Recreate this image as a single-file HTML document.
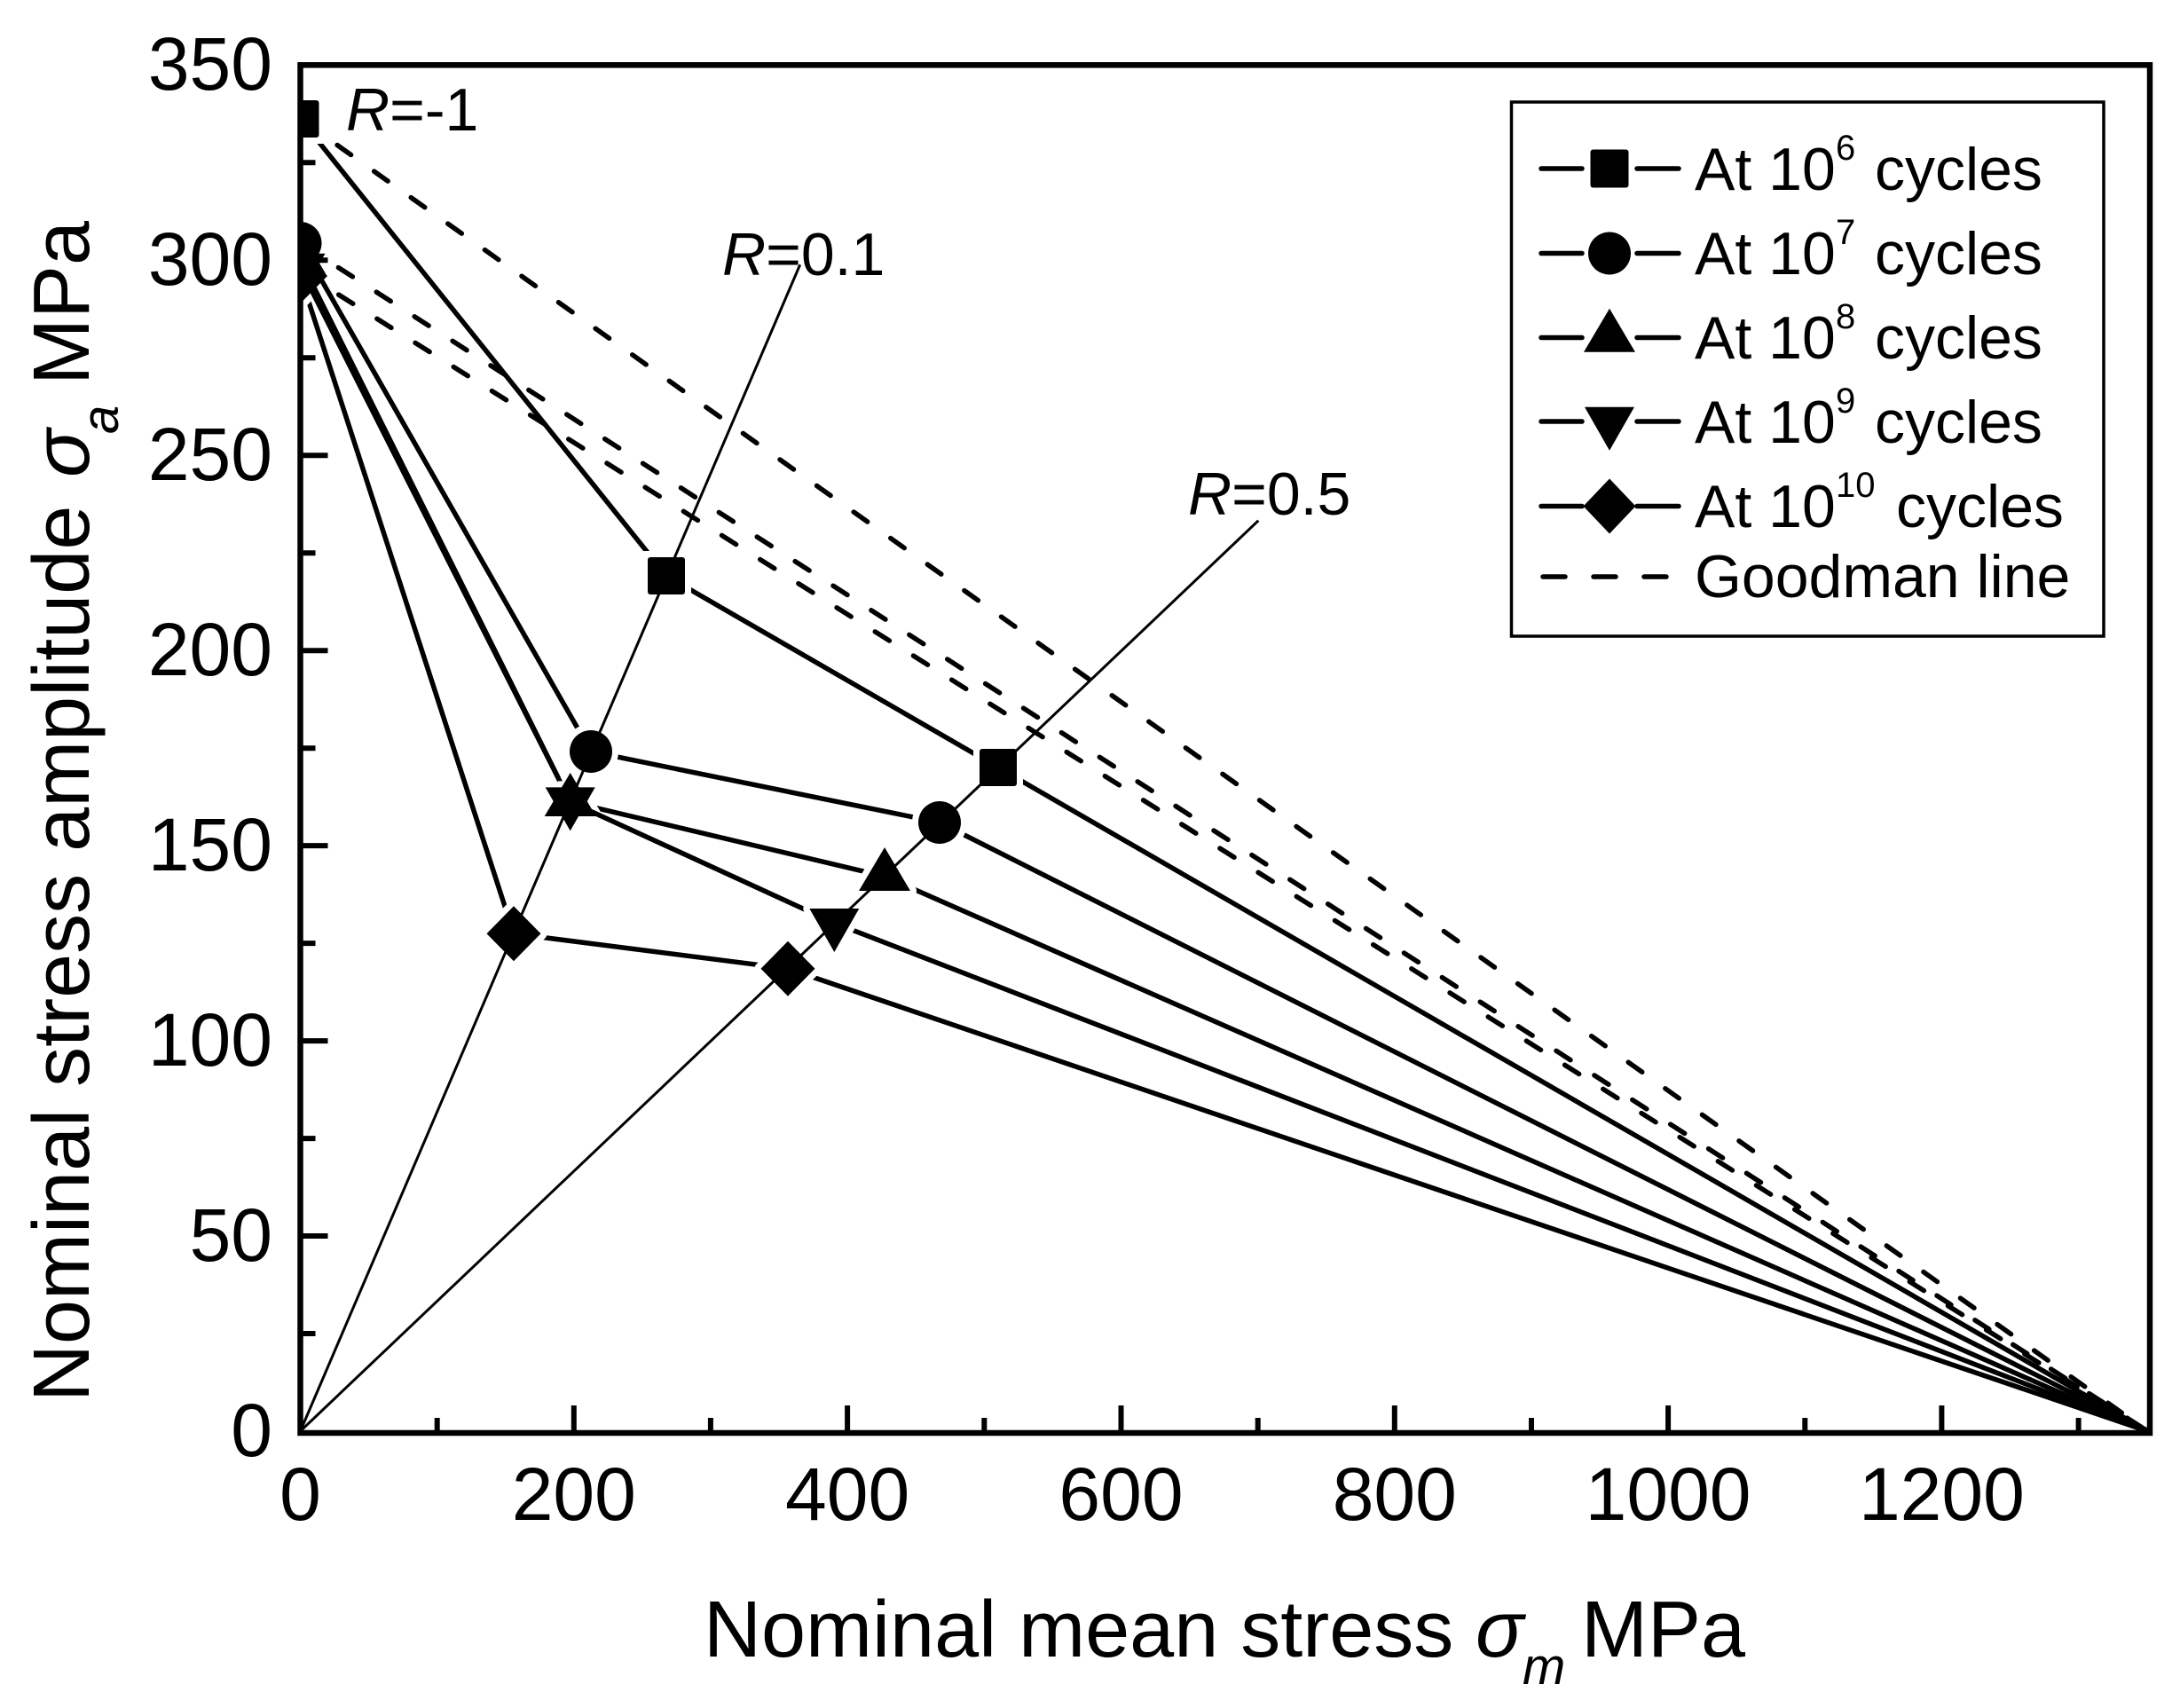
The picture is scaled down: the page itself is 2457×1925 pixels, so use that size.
<!DOCTYPE html>
<html>
<head>
<meta charset="utf-8">
<style>
html,body{margin:0;padding:0;background:#fff;}
svg{display:block;}
text{font-family:"Liberation Sans",Arial,sans-serif;fill:#000;}
</style>
</head>
<body>
<svg width="2457" height="1925" viewBox="0 0 2457 1925" xmlns="http://www.w3.org/2000/svg">
<rect x="0" y="0" width="2457" height="1925" fill="#fff"/>
<defs>
<clipPath id="pc"><rect x="338.5" y="73" width="2084.5" height="1542"/></clipPath>
<mask id="m6" maskUnits="userSpaceOnUse" x="0" y="0" width="2457" height="1925">
<rect x="0" y="0" width="2457" height="1925" fill="#fff"/>
<g fill="#000" stroke="#000" stroke-width="14">
<rect x="317.5" y="113" width="42" height="42"/>
<rect x="730" y="628" width="42" height="42"/>
<rect x="1104" y="844" width="42" height="42"/>
</g></mask>
<mask id="m7" maskUnits="userSpaceOnUse" x="0" y="0" width="2457" height="1925">
<rect x="0" y="0" width="2457" height="1925" fill="#fff"/>
<g fill="#000" stroke="#000" stroke-width="14">
<circle cx="338.5" cy="274" r="24"/>
<circle cx="666" cy="847" r="24"/>
<circle cx="1059" cy="927" r="24"/>
</g></mask>
<mask id="m8" maskUnits="userSpaceOnUse" x="0" y="0" width="2457" height="1925">
<rect x="0" y="0" width="2457" height="1925" fill="#fff"/>
<g fill="#000" stroke="#000" stroke-width="14" stroke-linejoin="round">
<polygon transform="translate(338.5,293)" points="0,-32.7 29,16.3 -29,16.3"/>
<polygon transform="translate(642.7,903.7)" points="0,-32.7 29,16.3 -29,16.3"/>
<polygon transform="translate(997,987.7)" points="0,-32.7 29,16.3 -29,16.3"/>
</g></mask>
<mask id="m9" maskUnits="userSpaceOnUse" x="0" y="0" width="2457" height="1925">
<rect x="0" y="0" width="2457" height="1925" fill="#fff"/>
<g fill="#000" stroke="#000" stroke-width="14" stroke-linejoin="round">
<polygon transform="translate(338.5,302)" points="-28,-16.3 28,-16.3 0,32.7"/>
<polygon transform="translate(642.7,903.7)" points="-28,-16.3 28,-16.3 0,32.7"/>
<polygon transform="translate(940.3,1040.3)" points="-28,-16.3 28,-16.3 0,32.7"/>
</g></mask>
<mask id="m10" maskUnits="userSpaceOnUse" x="0" y="0" width="2457" height="1925">
<rect x="0" y="0" width="2457" height="1925" fill="#fff"/>
<g fill="#000" stroke="#000" stroke-width="14" stroke-linejoin="round">
<polygon transform="translate(338.5,311)" points="0,-31 30.5,0 0,31 -30.5,0"/>
<polygon transform="translate(579,1052.3)" points="0,-31 30.5,0 0,31 -30.5,0"/>
<polygon transform="translate(888,1091.7)" points="0,-31 30.5,0 0,31 -30.5,0"/>
</g></mask>
</defs>

<!-- Goodman dashed lines -->
<g clip-path="url(#pc)" fill="none" stroke="#000" stroke-width="5.5" stroke-dasharray="19 32" stroke-linecap="round">
<path d="M338.5,134 L2420.5,1613"/>
<path d="M338.5,274 L2420.5,1613"/>
<path d="M338.5,305 L2420.5,1613"/>
</g>

<!-- R lines -->
<g fill="none" stroke="#000" stroke-width="3">
<path d="M338.5,1613 L901.7,298.3"/>
<path d="M338.5,1613 L1418.3,586.7"/>
</g>

<!-- data lines -->
<g clip-path="url(#pc)" fill="none" stroke="#000" stroke-width="5.5" stroke-linejoin="round">
<path mask="url(#m6)" d="M338.5,134 L751,649 L1125,865 L2420.5,1613"/>
<path mask="url(#m7)" d="M338.5,274 L666,847 L1059,927 L2420.5,1613"/>
<path mask="url(#m8)" d="M338.5,293 L642.7,903.7 L997,987.7 L2420.5,1613"/>
<path mask="url(#m9)" d="M338.5,302 L642.7,903.7 L940.3,1040.3 L2420.5,1613"/>
<path mask="url(#m10)" d="M338.5,311 L579,1052.3 L888,1091.7 L2420.5,1613"/>
</g>

<!-- markers -->
<g clip-path="url(#pc)" fill="#000">
<rect x="317.5" y="113" width="42" height="42" rx="3"/>
<rect x="730" y="628" width="42" height="42" rx="3"/>
<rect x="1104" y="844" width="42" height="42" rx="3"/>
<circle cx="338.5" cy="274" r="24"/>
<circle cx="666" cy="847" r="24"/>
<circle cx="1059" cy="927" r="24"/>
<polygon transform="translate(338.5,293)" points="0,-32.7 29,16.3 -29,16.3"/>
<polygon transform="translate(642.7,903.7)" points="0,-32.7 29,16.3 -29,16.3"/>
<polygon transform="translate(997,987.7)" points="0,-32.7 29,16.3 -29,16.3"/>
<polygon transform="translate(338.5,302)" points="-28,-16.3 28,-16.3 0,32.7"/>
<polygon transform="translate(642.7,903.7)" points="-28,-16.3 28,-16.3 0,32.7"/>
<polygon transform="translate(940.3,1040.3)" points="-28,-16.3 28,-16.3 0,32.7"/>
<polygon transform="translate(338.5,311)" points="0,-31 30.5,0 0,31 -30.5,0"/>
<polygon transform="translate(579,1052.3)" points="0,-31 30.5,0 0,31 -30.5,0"/>
<polygon transform="translate(888,1091.7)" points="0,-31 30.5,0 0,31 -30.5,0"/>
</g>

<!-- axes frame -->
<rect x="338.5" y="73.3" width="2084.5" height="1541.7" fill="none" stroke="#000" stroke-width="6.5"/>

<!-- ticks -->
<g stroke="#000" stroke-width="6">
<!-- x major -->
<line x1="646.8" y1="1615" x2="646.8" y2="1584"/>
<line x1="955.1" y1="1615" x2="955.1" y2="1584"/>
<line x1="1263.5" y1="1615" x2="1263.5" y2="1584"/>
<line x1="1571.8" y1="1615" x2="1571.8" y2="1584"/>
<line x1="1880.1" y1="1615" x2="1880.1" y2="1584"/>
<line x1="2188.4" y1="1615" x2="2188.4" y2="1584"/>
<!-- x minor -->
<line x1="492.7" y1="1615" x2="492.7" y2="1598"/>
<line x1="800.9" y1="1615" x2="800.9" y2="1598"/>
<line x1="1109.3" y1="1615" x2="1109.3" y2="1598"/>
<line x1="1417.7" y1="1615" x2="1417.7" y2="1598"/>
<line x1="1726" y1="1615" x2="1726" y2="1598"/>
<line x1="2034.3" y1="1615" x2="2034.3" y2="1598"/>
<line x1="2342.6" y1="1615" x2="2342.6" y2="1598"/>
<!-- y major -->
<line x1="338.5" y1="1393" x2="369.5" y2="1393"/>
<line x1="338.5" y1="1173.1" x2="369.5" y2="1173.1"/>
<line x1="338.5" y1="953.1" x2="369.5" y2="953.1"/>
<line x1="338.5" y1="733.2" x2="369.5" y2="733.2"/>
<line x1="338.5" y1="513.2" x2="369.5" y2="513.2"/>
<line x1="338.5" y1="293.3" x2="369.5" y2="293.3"/>
<!-- y minor -->
<line x1="338.5" y1="1503" x2="355.5" y2="1503"/>
<line x1="338.5" y1="1283.1" x2="355.5" y2="1283.1"/>
<line x1="338.5" y1="1063.1" x2="355.5" y2="1063.1"/>
<line x1="338.5" y1="843.2" x2="355.5" y2="843.2"/>
<line x1="338.5" y1="623.2" x2="355.5" y2="623.2"/>
<line x1="338.5" y1="403.2" x2="355.5" y2="403.2"/>
<line x1="338.5" y1="183.3" x2="355.5" y2="183.3"/>
</g>

<!-- x tick labels -->
<g font-size="84" text-anchor="middle">
<text x="338.5" y="1713">0</text>
<text x="646.8" y="1713">200</text>
<text x="955.1" y="1713">400</text>
<text x="1263.5" y="1713">600</text>
<text x="1571.8" y="1713">800</text>
<text x="1880.1" y="1713">1000</text>
<text x="2188.4" y="1713">1200</text>
</g>

<!-- y tick labels -->
<g font-size="84" text-anchor="end">
<text x="307" y="1641">0</text>
<text x="307" y="1421">50</text>
<text x="307" y="1201">100</text>
<text x="307" y="981">150</text>
<text x="307" y="761">200</text>
<text x="307" y="541">250</text>
<text x="307" y="321">300</text>
<text x="307" y="101">350</text>
</g>

<!-- axis titles -->
<text font-size="90" x="793" y="1867">Nominal mean stress <tspan x="1663" font-style="italic">σ</tspan><tspan x="1716" y="1898" font-size="58" font-style="italic">m</tspan><tspan x="1782" y="1867">MPa</tspan></text>

<text font-size="90" transform="rotate(-90)" x="-1580" y="100">Nominal stress amplitude <tspan x="-538" font-style="italic">σ</tspan><tspan x="-489" y="133" font-size="58" font-style="italic">a</tspan><tspan x="-434" y="100">MPa</tspan></text>

<!-- R labels -->
<g font-size="68">
<text x="390" y="147"><tspan font-style="italic">R</tspan>=-1</text>
<text x="814" y="310"><tspan font-style="italic">R</tspan>=0.1</text>
<text x="1339" y="580"><tspan font-style="italic">R</tspan>=0.5</text>
</g>

<!-- legend -->
<rect x="1703.5" y="115" width="667.5" height="602" fill="#fff" stroke="#000" stroke-width="3.5"/>
<g stroke="#000" stroke-width="5.5" stroke-linecap="round">
<line x1="1737" y1="190" x2="1783" y2="190"/><line x1="1845" y1="190" x2="1892" y2="190"/>
<line x1="1737" y1="285.5" x2="1783" y2="285.5"/><line x1="1845" y1="285.5" x2="1892" y2="285.5"/>
<line x1="1737" y1="380.5" x2="1783" y2="380.5"/><line x1="1845" y1="380.5" x2="1892" y2="380.5"/>
<line x1="1737" y1="475" x2="1783" y2="475"/><line x1="1845" y1="475" x2="1892" y2="475"/>
<line x1="1737" y1="570.5" x2="1783" y2="570.5"/><line x1="1845" y1="570.5" x2="1892" y2="570.5"/>
<line x1="1739" y1="650" x2="1764" y2="650"/>
<line x1="1796" y1="650" x2="1821" y2="650"/>
<line x1="1853" y1="650" x2="1878" y2="650"/>
</g>
<g fill="#000">
<rect x="1792.5" y="168.5" width="43" height="43" rx="3"/>
<circle cx="1814" cy="285.5" r="24"/>
<polygon transform="translate(1814,380.5)" points="0,-32.7 29,16.3 -29,16.3"/>
<polygon transform="translate(1814,475)" points="-28,-16.3 28,-16.3 0,32.7"/>
<polygon transform="translate(1814,570.5)" points="0,-31 29.5,0 0,31 -29.5,0"/>
</g>
<g font-size="68">
<text x="1910" y="214">At 10<tspan x="2069" y="180" font-size="40">6</tspan><tspan x="2113" y="214">cycles</tspan></text>
<text x="1910" y="309">At 10<tspan x="2069" y="275" font-size="40">7</tspan><tspan x="2113" y="309">cycles</tspan></text>
<text x="1910" y="404">At 10<tspan x="2069" y="370" font-size="40">8</tspan><tspan x="2113" y="404">cycles</tspan></text>
<text x="1910" y="499">At 10<tspan x="2069" y="465" font-size="40">9</tspan><tspan x="2113" y="499">cycles</tspan></text>
<text x="1910" y="594">At 10<tspan x="2069" y="560" font-size="40">10</tspan><tspan x="2137" y="594">cycles</tspan></text>
<text x="1910" y="673">Goodman line</text>
</g>
</svg>
</body>
</html>
